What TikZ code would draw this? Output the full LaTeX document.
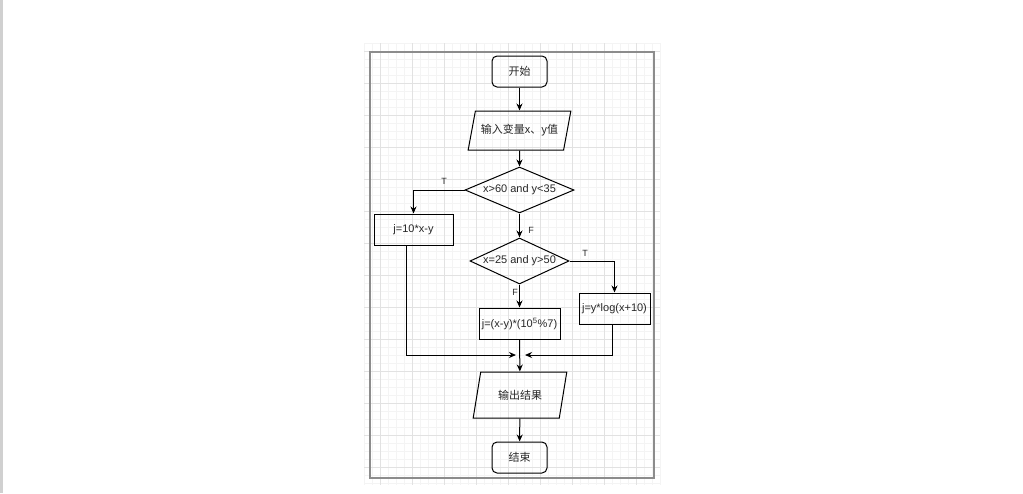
\documentclass[tikz,border=0pt]{standalone}
\usepackage{fontspec}
\setmainfont{Liberation Sans}
\newfontfamily\cjk{Noto Sans CJK SC}
\usetikzlibrary{arrows.meta,shapes.geometric}

\definecolor{framegray}{RGB}{140,140,140}
\definecolor{stripgray}{RGB}{208,208,208}
\definecolor{gridminor}{RGB}{244,244,244}
\definecolor{gridmajor}{RGB}{226,226,226}
\definecolor{inkgray}{RGB}{40,40,40}

\begin{document}
\begin{tikzpicture}[x=1pt,y=-1pt,line width=1pt,>={Stealth[length=7pt,width=6pt]},
  every node/.style={font=\fontsize{11}{13}\selectfont,text=inkgray},
  term/.style={draw,rounded corners=5pt,minimum width=55pt,minimum height=31pt},
  io/.style={draw,trapezium,trapezium stretches=true,inner sep=0pt},
  cond/.style={draw,diamond,aspect=2.4,inner sep=0pt},
  proc/.style={draw,minimum height=31pt,inner sep=1pt},
  lbl/.style={font=\fontsize{9}{10}\selectfont}]
% page and grid
\useasboundingbox (0,0) rectangle (1023,493);
\fill[white] (0,0) rectangle (1023,493);
\fill[stripgray] (0,0) rectangle (3,493);
\foreach \i in {0,...,37} \draw[gridminor,line width=0.6pt] (364+8*\i,43) -- (364+8*\i,485);
\foreach \j in {0,...,55} \draw[gridminor,line width=0.6pt] (364,43+8*\j) -- (660,43+8*\j);
\foreach \i in {0,...,8} \draw[gridmajor,line width=0.6pt] (380+32*\i,43) -- (380+32*\i,485);
\foreach \j in {0,...,13} \draw[gridmajor,line width=0.6pt] (364,51+32*\j) -- (660,51+32*\j);
% frame
\draw[framegray,line width=1.1pt] (370,52) rectangle (654,478);

% flow
\node[term] (start) at (519.5,71.5) {\cjk 开始};
\node[io,trapezium left angle=62,trapezium right angle=118,minimum width=103pt,minimum height=39pt] (in) at (519.5,130.5) {\cjk 输入变量x、y值};
\node[cond,minimum width=109pt,minimum height=46pt] (d1) at (519.5,190) {x>60 and y<35};
\node[proc,minimum width=79pt] (b1) at (413.5,229.5) {j=10*x-y};
\node[cond,minimum width=99pt,minimum height=46pt] (d2) at (519.5,261) {x=25 and y>50};
\node[proc,minimum width=71pt] (b3) at (614.5,308.5) {j=y*log(x+10)};
\node[proc,minimum width=81pt] (b2) at (519.5,323.5) {j=(x-y)*(10\textsuperscript{5}\%7)};
\coordinate (m) at (519.5,355);
\node[io,trapezium left angle=67.5,trapezium right angle=112.5,minimum width=94pt,minimum height=46pt] (out) at (520,395) {\cjk 输出结果};
\node[term] (stop) at (519.5,457.5) {\cjk 结束};

% branch labels
\node[lbl] (t1) at (444,181) {T};
\node[lbl] (f1) at (531,230) {F};
\node[lbl] (t2) at (585,253) {T};
\node[lbl] (f2) at (515,292) {F};

% connectors
\draw[->] (start) -- (in);
\draw[->] (in) -- (d1);
\draw[->] (d1.west) -| (b1.north);
\draw[->] (d1) -- (d2);
\draw[->] (d2.east) -| (b3.north);
\draw[->] (d2) -- (b2);
\draw[->] (b2) -- (out);
\draw[->] ([xshift=-7pt]b1.south) |- ([xshift=-3.5pt]m);
\draw[->] ([xshift=-2.5pt]b3.south) |- ([xshift=5.5pt]m);
\draw[->] (out) -- (stop);
\end{tikzpicture}
\end{document}
